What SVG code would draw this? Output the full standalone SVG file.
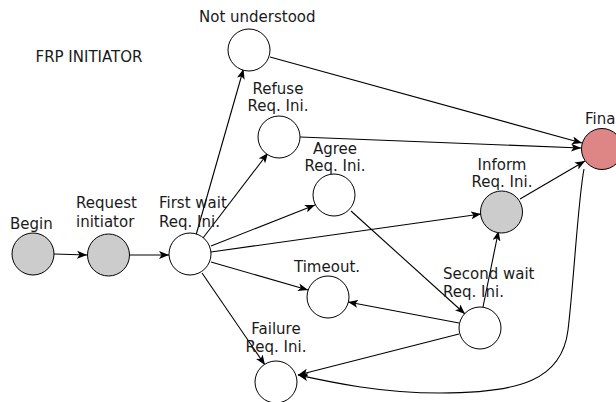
<svg xmlns="http://www.w3.org/2000/svg" width="616" height="402" viewBox="0 0 616 402">
<style>
text{font-family:"DejaVu Sans",sans-serif;font-size:15px;fill:#1a1a1a}
circle{stroke:#000;stroke-width:1}
.w{fill:#fff}.g{fill:#cccccc}.f{fill:#de8686}
.e path,.e line{stroke:#000;stroke-width:1.1;fill:none;marker-end:url(#a)}
</style>
<defs>
<marker id="a" markerUnits="userSpaceOnUse" markerWidth="11" markerHeight="8" refX="10" refY="4" orient="auto">
<path d="M0,0 L10,4 L0,8 L2.5,4 z" fill="#000"/>
</marker>
</defs>
<rect width="616" height="402" fill="#fff"/>
<text x="35.5" y="62">FRP INITIATOR</text>
<g class="e">
<line x1="54" y1="254" x2="87" y2="255"/>
<line x1="129" y1="255" x2="169" y2="255"/>
<line x1="196" y1="235" x2="243.5" y2="69"/>
<line x1="203" y1="238" x2="268" y2="153"/>
<line x1="211" y1="246" x2="315" y2="205"/>
<line x1="211" y1="252" x2="481" y2="214"/>
<line x1="211" y1="262" x2="308" y2="290"/>
<line x1="202" y1="273" x2="265" y2="365"/>
<line x1="270" y1="57" x2="582" y2="143"/>
<line x1="300" y1="137" x2="581" y2="148"/>
<line x1="351" y1="211" x2="465" y2="314"/>
<line x1="483" y1="307" x2="498.5" y2="231"/>
<line x1="459" y1="323" x2="348" y2="302"/>
<line x1="459" y1="334" x2="298" y2="375"/>
<line x1="520" y1="199" x2="585" y2="161"/>
<path d="M584,169 C578,200 574,280 568,330 C562,380 520,393 440,393 C380,393 330,382 298,375"/>
</g>
<g id="begin"><circle class="g" cx="33" cy="254" r="21"/><text x="10" y="229">Begin</text></g>
<g id="request"><circle class="g" cx="108.5" cy="255" r="21"/><text x="76" y="208">Request</text><text x="76" y="227">initiator</text></g>
<g id="firstwait"><circle class="w" cx="190" cy="254" r="21"/><text x="159" y="208">First wait</text><text x="159" y="227">Req. Ini.</text></g>
<g id="notunderstood"><circle class="w" cx="249" cy="50" r="21"/><text x="199" y="22">Not understood</text></g>
<g id="refuse"><circle class="w" cx="279" cy="137" r="21"/><text x="278" y="94" text-anchor="middle">Refuse</text><text x="278" y="111" text-anchor="middle">Req. Ini.</text></g>
<g id="agree"><circle class="w" cx="334" cy="195" r="21"/><text x="335" y="154" text-anchor="middle">Agree</text><text x="335" y="171" text-anchor="middle">Req. Ini.</text></g>
<g id="inform"><circle class="g" cx="501.5" cy="212" r="21"/><text x="502" y="170" text-anchor="middle">Inform</text><text x="502" y="187" text-anchor="middle">Req. Ini.</text></g>
<g id="final"><circle class="f" cx="602" cy="149" r="20.5"/><text x="585" y="124">Final</text></g>
<g id="timeout"><circle class="w" cx="328" cy="297" r="21"/><text x="294" y="272">Timeout.</text></g>
<g id="secondwait"><circle class="w" cx="480" cy="328" r="21"/><text x="443" y="279">Second wait</text><text x="443" y="297">Req. Ini.</text></g>
<g id="failure"><circle class="w" cx="276" cy="382" r="21"/><text x="276" y="334" text-anchor="middle">Failure</text><text x="276" y="352" text-anchor="middle">Req. Ini.</text></g>
</svg>
